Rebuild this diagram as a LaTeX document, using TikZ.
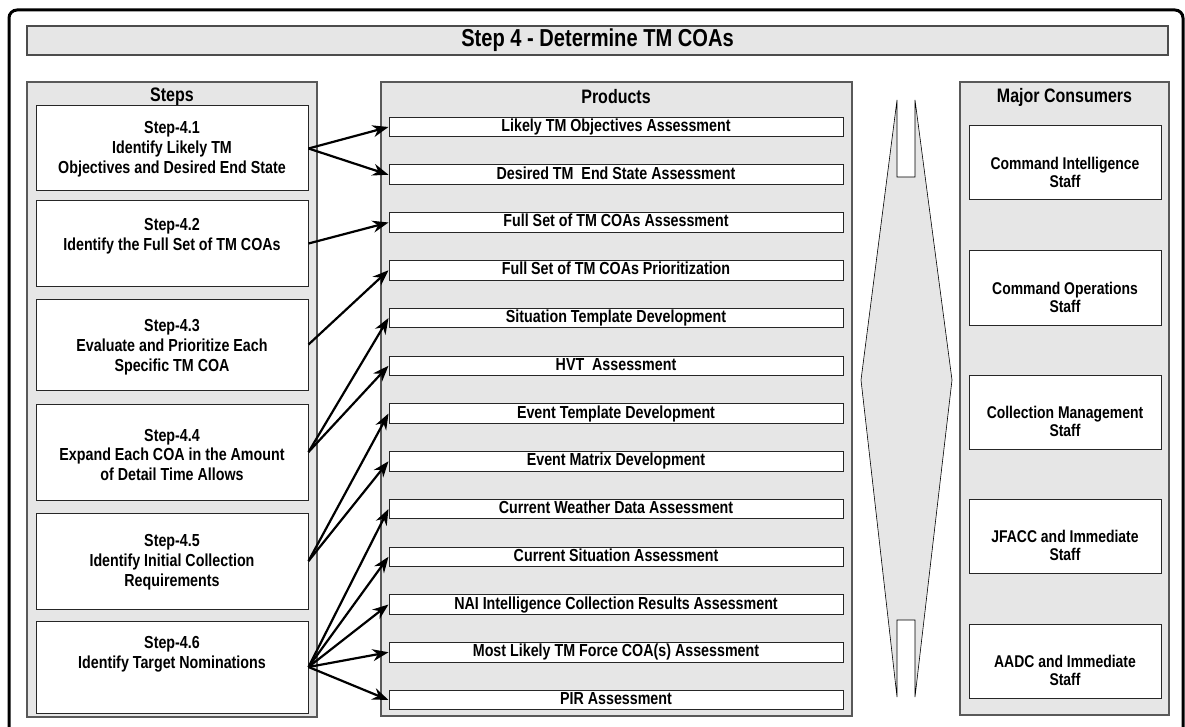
\documentclass[tikz,border=0pt]{standalone}
\usepackage{fontspec}
\setmainfont[FakeStretch=0.82]{Liberation Sans}
\usetikzlibrary{arrows.meta}
\definecolor{panelgray}{RGB}{230,230,230}
\tikzset{panel/.style={draw=black!65, line width=1.2pt, fill=panelgray, inner sep=0pt}}
\tikzset{titlebar/.style={draw=black!70, line width=1.2pt, fill=panelgray, inner sep=0pt, minimum width=1141pt, minimum height=29pt, font=\fontsize{24.5}{26}\selectfont\bfseries}}
\tikzset{header/.style={inner sep=0pt, font=\fontsize{19.5}{22}\selectfont\bfseries}}
\tikzset{stepbox/.style={draw=black!85, line width=1pt, fill=white, minimum width=272pt, inner sep=0pt}}
\tikzset{steptext/.style={align=center, inner sep=0pt, font=\fontsize{17.4}{19.8}\selectfont\bfseries}}
\tikzset{prodbox/.style={draw=black!85, line width=1pt, fill=white, minimum width=454pt, minimum height=19.5pt, inner sep=0pt, text height=12.5pt, text depth=3.5pt, font=\fontsize{17.4}{19}\selectfont\bfseries}}
\tikzset{consbox/.style={draw=black!85, line width=1pt, fill=white, minimum width=192pt, minimum height=74pt, inner sep=0pt}}
\tikzset{constext/.style={align=center, inner sep=0pt, font=\fontsize{17}{18.5}\selectfont\bfseries}}
\tikzset{feeds/.style={line width=2.2pt, -{Stealth[length=16pt,width=12pt]}}}

\begin{document}
\begin{tikzpicture}[x=1pt, y=-1pt]

\useasboundingbox (0,0) rectangle (1185,727);
\clip (0,0) rectangle (1185,727);

% frame and title
\draw[line width=3pt, rounded corners=8pt] (9,10) rectangle (1183,745);
\node[titlebar] (title) at (597.5,40.5) {Step 4 - Determine TM COAs};

% columns
\node[panel, minimum width=290pt, minimum height=635pt] (stepscol) at (172,399.5) {};
\node[panel, minimum width=471pt, minimum height=634pt] (prodcol) at (616.5,399) {};
\node[panel, minimum width=209pt, minimum height=633pt] (conscol) at (1064.5,398.5) {};

\node[header] (stepshead) at (172,96.5) {Steps};
\node[header] (prodhead) at (616,96.5) {Products};
\node[header] (conshead) at (1064.5,97) {Major Consumers};

% steps
\node[stepbox, minimum height=85pt] (step1) at (172,148.5) {};
\node[stepbox, minimum height=85pt] (step2) at (172,243.5) {};
\node[stepbox, minimum height=91pt] (step3) at (172,344.5) {};
\node[stepbox, minimum height=96pt] (step4) at (172,452) {};
\node[stepbox, minimum height=96pt] (step5) at (172,561) {};
\node[stepbox, minimum height=92pt] (step6) at (172,667) {};

\node[steptext] (step1text) at (172,149.5) {Step-4.1\\Identify Likely TM\\Objectives and Desired End State};
\node[steptext] (step2text) at (172,236) {Step-4.2\\Identify the Full Set of TM COAs};
\node[steptext] (step3text) at (172,347) {Step-4.3\\Evaluate and Prioritize Each\\Specific TM COA};
\node[steptext] (step4text) at (172,455) {Step-4.4\\Expand Each COA in the Amount\\of Detail Time Allows};
\node[steptext] (step5text) at (172,562.5) {Step-4.5\\Identify Initial Collection\\Requirements};
\node[steptext] (step6text) at (172,654) {Step-4.6\\Identify Target Nominations};

% products
\node[prodbox] (prod1) at (616,127) {Likely TM Objectives Assessment};
\node[prodbox] (prod2) at (616,174.75) {Desired TM\ \ End State Assessment};
\node[prodbox] (prod3) at (616,222.5) {Full Set of TM COAs Assessment};
\node[prodbox] (prod4) at (616,270.25) {Full Set of TM COAs Prioritization};
\node[prodbox] (prod5) at (616,318) {Situation Template Development};
\node[prodbox] (prod6) at (616,365.75) {HVT\ \ Assessment};
\node[prodbox] (prod7) at (616,413.5) {Event Template Development};
\node[prodbox] (prod8) at (616,461.25) {Event Matrix Development};
\node[prodbox] (prod9) at (616,509) {Current Weather Data Assessment};
\node[prodbox] (prod10) at (616,556.75) {Current Situation Assessment};
\node[prodbox] (prod11) at (616,604.5) {NAI Intelligence Collection Results Assessment};
\node[prodbox] (prod12) at (616,652.25) {Most Likely TM Force COA(s) Assessment};
\node[prodbox] (prod13) at (616,700) {PIR Assessment};

% two-way flow
\draw[line width=0.6pt, fill=panelgray] (897,100) -- (897,177) -- (915,177) -- (915,100) -- (952,380) -- (915,697) -- (915,620) -- (897,620) -- (897,697) -- (861,380) -- cycle;

% consumers
\node[consbox] (cons1) at (1065,162.5) {};
\node[consbox] (cons2) at (1065,288) {};
\node[consbox] (cons3) at (1065,412) {};
\node[consbox] (cons4) at (1065,536) {};
\node[consbox] (cons5) at (1065,661) {};

\node[constext] (cons1text) at (1065,172.5) {Command Intelligence\\Staff};
\node[constext] (cons2text) at (1065,297.5) {Command Operations\\Staff};
\node[constext] (cons3text) at (1065,421.5) {Collection Management\\Staff};
\node[constext] (cons4text) at (1065,545.5) {JFACC and Immediate\\Staff};
\node[constext] (cons5text) at (1065,670.5) {AADC and Immediate\\Staff};

% step -> product
\draw[feeds] (step1.east) -- (prod1.west);
\draw[feeds] (step1.east) -- (prod2.west);
\draw[feeds] (step2.east) -- (prod3.west);
\draw[feeds] (step3.east) -- (prod4.west);
\draw[feeds] (step4.east) -- (prod5.west);
\draw[feeds] (step4.east) -- (prod6.west);
\draw[feeds] (step5.east) -- (prod7.west);
\draw[feeds] (step5.east) -- (prod8.west);
\draw[feeds] (step6.east) -- (prod9.west);
\draw[feeds] (step6.east) -- (prod10.west);
\draw[feeds] (step6.east) -- (prod11.west);
\draw[feeds] (step6.east) -- (prod12.west);
\draw[feeds] (step6.east) -- (prod13.west);

\end{tikzpicture}
\end{document}
